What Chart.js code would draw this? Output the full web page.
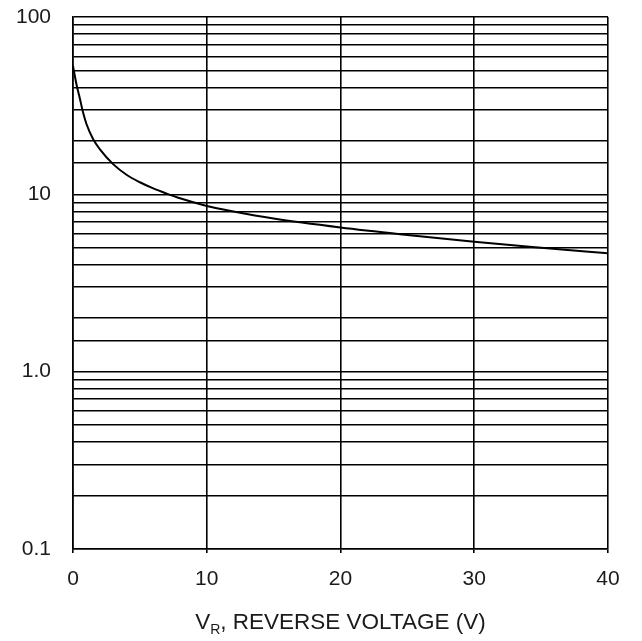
<!DOCTYPE html>
<html>
<head>
<meta charset="utf-8">
<script src="https://cdn.jsdelivr.net/npm/chart.js@4/dist/chart.umd.min.js"></script>
<style>
  body { margin: 0; background: #fff; }
  canvas { display: block; }
</style>
</head>
<body>
<canvas id="myChart" width="642" height="641"></canvas>
<script>
// reverse voltage (V) and capacitance values
const voltage = [0, 0.25, 0.5, 0.75, 1, 1.5, 2, 3, 4, 5, 6, 7, 8, 10, 12, 15, 20, 25, 30, 35, 40];
const capacitance = [53, 42, 35, 29, 25, 20.5, 18, 14.8, 12.9, 11.7, 10.8, 10.1, 9.5, 8.6, 8.0, 7.3, 6.5, 5.9, 5.4, 5.0, 4.65];
const xTicks = [0, 10, 20, 30, 40];
const yLabels = { 0.1: '0.1', 1: '1.0', 10: '10', 100: '100' };

const textColor = '#1a1a1a';
const gridColor = '#000';

// x axis title with subscript R
const axisTitle = {
  id: 'axisTitle',
  afterDraw(chart) {
    const c = chart.ctx;
    const area = chart.chartArea;
    const big = '22.5px "Liberation Sans", Arial, sans-serif';
    const small = '14px "Liberation Sans", Arial, sans-serif';
    const rest = ', REVERSE VOLTAGE (V)';
    c.save();
    c.fillStyle = textColor;
    c.textBaseline = 'alphabetic';
    c.textAlign = 'left';
    c.font = big;
    const wV = c.measureText('V').width;
    const wRest = c.measureText(rest).width;
    c.font = small;
    const wR = c.measureText('R').width;
    const total = wV + wR + wRest;
    let x = (area.left + area.right) / 2 - total / 2;
    const y = 629;
    c.font = big;
    c.fillText('V', x, y);
    x += wV;
    c.font = small;
    c.fillText('R', x, y + 5);
    x += wR;
    c.font = big;
    c.fillText(rest, x, y);
    c.restore();
  }
};

const ctx = document.getElementById('myChart').getContext('2d');
const myChart = new Chart(ctx, {
  type: 'line',
  data: {
    datasets: [{
      data: voltage.map((v, i) => ({ x: v, y: capacitance[i] })),
      borderColor: '#000',
      borderWidth: 2,
      pointRadius: 0,
      fill: false,
      cubicInterpolationMode: 'monotone'
    }]
  },
  options: {
    responsive: false,
    animation: false,
    layout: { padding: { top: 17, right: 34, left: 0, bottom: 0 } },
    plugins: {
      legend: { display: false },
      tooltip: { enabled: false }
    },
    scales: {
      x: {
        type: 'linear',
        min: 0,
        max: 40,
        afterBuildTicks: (scale) => { scale.ticks = xTicks.map(v => ({ value: v })); },
        afterFit: (scale) => { scale.height = 92; },
        grid: { color: gridColor, lineWidth: 1.6, tickLength: 4 },
        border: { color: gridColor, width: 1.6 },
        ticks: {
          color: textColor,
          padding: 14,
          maxRotation: 0,
          font: { family: '"Liberation Sans", Arial, sans-serif', size: 21 }
        }
      },
      y: {
        type: 'logarithmic',
        min: 0.1,
        max: 100,
        afterFit: (scale) => {
          scale.width = 73;
          scale.paddingTop = 0;
          scale.paddingBottom = 0;
        },
        grid: { color: gridColor, lineWidth: 1.6, tickLength: 0 },
        border: { color: gridColor, width: 1.6 },
        ticks: {
          color: textColor,
          padding: 22,
          autoSkip: false,
          font: { family: '"Liberation Sans", Arial, sans-serif', size: 21 },
          callback: (value) => {
            const key = Math.round(value * 1000) / 1000;
            return yLabels[key] !== undefined ? yLabels[key] : '';
          }
        }
      }
    }
  },
  plugins: [axisTitle]
});
</script>
</body>
</html>
